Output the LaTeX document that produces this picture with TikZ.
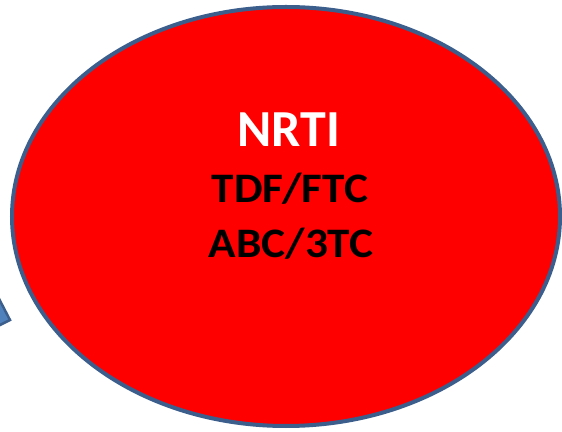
\documentclass[tikz,border=0pt]{standalone}
\usepackage{fontspec}
\setmainfont{Carlito}
\usetikzlibrary{shapes.geometric}
\definecolor{rimblue}{HTML}{3B5E8C}
\definecolor{fillblue}{HTML}{4F81BD}
\begin{document}
\begin{tikzpicture}[x=1pt,y=1pt,
  oval/.style={ellipse,draw=rimblue,line width=4pt,fill=red,inner sep=0pt,
    minimum width=548pt,minimum height=419pt},
  title/.style={font=\bfseries\fontsize{52}{52}\selectfont,text=white,anchor=base,inner sep=0pt},
  drug/.style={font=\bfseries\fontsize{42}{42}\selectfont,text=black,anchor=base,inner sep=0pt,xscale=1.08}]
  \useasboundingbox (0,0) rectangle (562,431);
  % arrow tip entering from the left edge
  \begin{scope}
    \clip (0,0) rectangle (562,431);
    \filldraw[fill=fillblue,draw=rimblue,line width=2.5pt,line join=miter]
      (-4,138) -- (10,111) -- (-4,104) -- cycle;
  \end{scope}
  \node[oval] (nrti) at (286,214.5) {};
  \node[title] (cls) at (289,284) {NRTI};
  \node[drug] (d1) at (290,228) {TDF/FTC};
  \node[drug] (d2) at (291,173) {ABC/3TC};
\end{tikzpicture}
\end{document}
